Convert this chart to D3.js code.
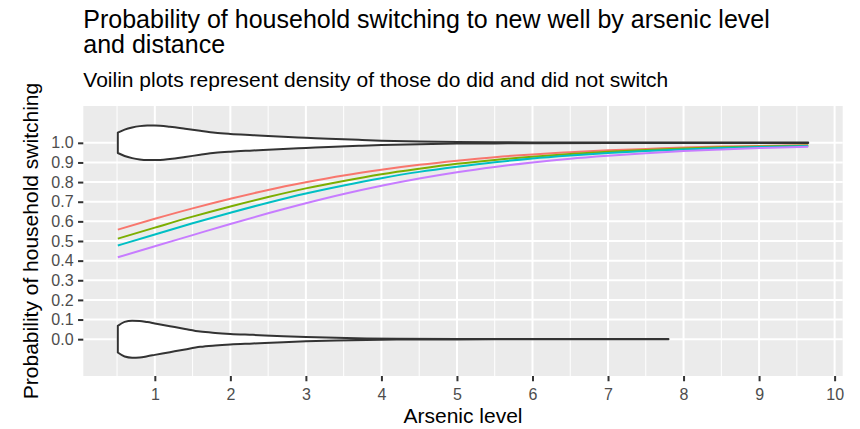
<!DOCTYPE html>
<html>
<head>
<meta charset="utf-8">
<script src="https://cdn.jsdelivr.net/npm/d3@7"></script>
<style>
  html, body { margin: 0; padding: 0; background: #ffffff; }
  svg { display: block; font-family: "Liberation Sans", Arial, Helvetica, sans-serif; }
</style>
</head>
<body>
<svg id="chart" width="860" height="429"></svg>
<script>
// Arsenic levels at which the fitted switching probabilities are drawn
const arsenicGrid = [0.51, 1, 1.5, 2, 2.5, 3, 3.5, 4, 4.5, 5, 5.5, 6, 6.5, 7, 7.5, 8, 8.5, 9, 9.65];

// Fitted probability of switching, one series per distance to nearest safe well
const seriesNames = ["min", "q1", "median", "q3"];
const seriesColors = ["#F8766D", "#7CAE00", "#00BFC4", "#C77CFF"];
const probMin    = [0.558, 0.613, 0.666, 0.715, 0.760, 0.799, 0.834, 0.863, 0.888, 0.909, 0.927, 0.941, 0.952, 0.962, 0.969, 0.976, 0.981, 0.984, 0.988];
const probQ1     = [0.512, 0.568, 0.624, 0.676, 0.724, 0.768, 0.806, 0.840, 0.868, 0.893, 0.913, 0.929, 0.943, 0.954, 0.963, 0.971, 0.977, 0.981, 0.986];
const probMedian = [0.477, 0.533, 0.590, 0.644, 0.695, 0.742, 0.783, 0.820, 0.852, 0.878, 0.901, 0.920, 0.935, 0.948, 0.958, 0.966, 0.973, 0.979, 0.984];
const probQ3     = [0.417, 0.473, 0.530, 0.587, 0.641, 0.692, 0.739, 0.781, 0.818, 0.850, 0.877, 0.900, 0.919, 0.934, 0.947, 0.958, 0.966, 0.973, 0.980];
const seriesValues = [probMin, probQ1, probMedian, probQ3];

// Violin half-widths (outcome units) for households that switched (drawn at 1)
const switchedArsenic = [0.51, 0.6, 0.7, 0.8, 0.9, 1.0, 1.2, 1.4, 1.6, 1.8, 2.0, 2.3, 2.7, 3.0, 3.3, 3.7, 4.0, 4.5, 5.0, 5.5, 6.0, 7.0, 8.0, 9.0, 9.65];
const switchedWidth   = [0.052, 0.067, 0.078, 0.085, 0.088, 0.088, 0.082, 0.072, 0.061, 0.051, 0.045, 0.039, 0.031, 0.026, 0.021, 0.015, 0.011, 0.007, 0.004, 0.003, 0.002, 0.0015, 0.001, 0.001, 0.001];

// Violin half-widths for households that did not switch (drawn at 0)
const stayedArsenic = [0.51, 0.6, 0.7, 0.8, 0.9, 1.0, 1.2, 1.4, 1.6, 1.8, 2.0, 2.3, 2.7, 3.0, 3.4, 3.8, 4.2, 5.0, 6.0, 7.0, 7.8];
const stayedWidth   = [0.068, 0.088, 0.094, 0.093, 0.087, 0.080, 0.066, 0.052, 0.039, 0.032, 0.027, 0.022, 0.015, 0.011, 0.007, 0.004, 0.002, 0.001, 0.0008, 0.0005, 0.0005];

const xTicks = [1, 2, 3, 4, 5, 6, 7, 8, 9, 10];
const xMinor = [0.5, 1.5, 2.5, 3.5, 4.5, 5.5, 6.5, 7.5, 8.5, 9.5];
const yTicks = [0.0, 0.1, 0.2, 0.3, 0.4, 0.5, 0.6, 0.7, 0.8, 0.9, 1.0];

const titleLines = ["Probability of household switching to new well by arsenic level", "and distance"];
const subtitle = "Voilin plots represent density of those do did and did not switch";
const xTitle = "Arsenic level";
const yTitle = "Probability of household switching";

// ---- layout ----
const panel = { left: 83.3, right: 842.7, top: 106, bottom: 376 };
const svg = d3.select("#chart");

const x = d3.scaleLinear().domain([0.053, 10.107]).range([panel.left, panel.right]);
const y = d3.scaleLinear().domain([-0.1875, 1.1875]).range([panel.bottom, panel.top]);

// panel background
svg.append("rect")
  .attr("x", panel.left).attr("y", panel.top)
  .attr("width", panel.right - panel.left).attr("height", panel.bottom - panel.top)
  .attr("fill", "#EBEBEB");

const grid = svg.append("g");
grid.selectAll("line.xminor").data(xMinor).join("line")
  .attr("x1", d => x(d)).attr("x2", d => x(d))
  .attr("y1", panel.top).attr("y2", panel.bottom)
  .attr("stroke", "#ffffff").attr("stroke-width", 1);
grid.selectAll("line.xmajor").data(xTicks).join("line")
  .attr("x1", d => x(d)).attr("x2", d => x(d))
  .attr("y1", panel.top).attr("y2", panel.bottom)
  .attr("stroke", "#ffffff").attr("stroke-width", 2);
grid.selectAll("line.ymajor").data(yTicks).join("line")
  .attr("y1", d => y(d)).attr("y2", d => y(d))
  .attr("x1", panel.left).attr("x2", panel.right)
  .attr("stroke", "#ffffff").attr("stroke-width", 2);

// ---- violins ----
function violin(arsenic, widths, level) {
  const pts = arsenic.map((a, i) => ({ a, w: widths[i] }));
  const area = d3.area()
    .x(d => x(d.a))
    .y0(d => y(level - d.w))
    .y1(d => y(level + d.w))
    .curve(d3.curveMonotoneX);
  svg.append("path")
    .attr("d", area(pts))
    .attr("fill", "#ffffff")
    .attr("stroke", "#333333")
    .attr("stroke-width", 2)
    .attr("stroke-linejoin", "round");
}

// ---- fitted curves ----
const line = d3.line().x(d => x(d[0])).y(d => y(d[1])).curve(d3.curveMonotoneX);
seriesValues.forEach((vals, i) => {
  svg.append("path")
    .attr("d", line(arsenicGrid.map((a, j) => [a, vals[j]])))
    .attr("fill", "none")
    .attr("stroke", seriesColors[i])
    .attr("stroke-width", 2);
});

violin(switchedArsenic, switchedWidth, 1);
violin(stayedArsenic, stayedWidth, 0);

// ---- axes ----
const yAxis = svg.append("g")
  .attr("transform", `translate(${panel.left},0)`)
  .call(d3.axisLeft(y).tickValues(yTicks).tickFormat(d3.format(".1f")).tickSize(5.25).tickPadding(4.5));
const xAxis = svg.append("g")
  .attr("transform", `translate(0,${panel.bottom})`)
  .call(d3.axisBottom(x).tickValues(xTicks).tickFormat(d3.format("d")).tickSize(5.25).tickPadding(7));
[xAxis, yAxis].forEach(g => {
  g.select(".domain").remove();
  g.selectAll(".tick line").attr("stroke", "#333333").attr("stroke-width", 2);
  g.selectAll(".tick text")
    .attr("fill", "#4D4D4D")
    .style("font-size", "16px")
    .style("font-family", "\"Liberation Sans\", Arial, Helvetica, sans-serif");
});

// ---- titles ----
svg.append("text")
  .attr("x", (panel.left + panel.right) / 2).attr("y", 423)
  .attr("text-anchor", "middle")
  .style("font-size", "21px").attr("fill", "#000000")
  .text(xTitle);

svg.append("text")
  .attr("transform", `translate(38,${(panel.top + panel.bottom) / 2}) rotate(-90)`)
  .attr("text-anchor", "middle")
  .style("font-size", "21px").attr("fill", "#000000")
  .text(yTitle);

titleLines.forEach((t, i) => {
  svg.append("text")
    .attr("x", panel.left).attr("y", 28 + i * 25.3)
    .style("font-size", "25px").attr("fill", "#000000")
    .text(t);
});

svg.append("text")
  .attr("x", panel.left).attr("y", 87.3)
  .style("font-size", "21px").attr("fill", "#000000")
  .text(subtitle);
</script>
</body>
</html>
